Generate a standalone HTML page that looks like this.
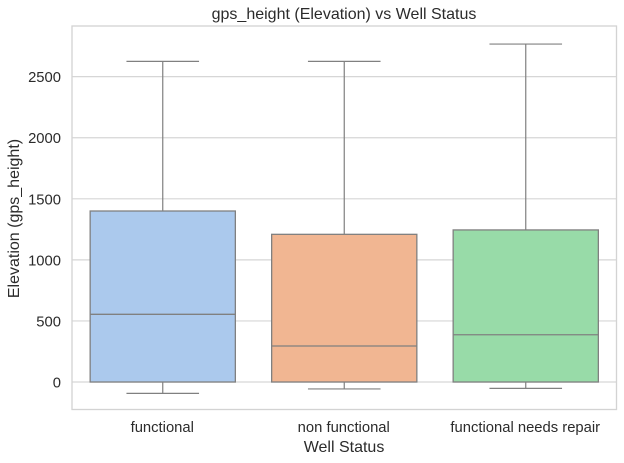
<!DOCTYPE html>
<html>
<head>
<meta charset="utf-8">
<title>gps_height (Elevation) vs Well Status</title>
<style>
html,body{margin:0;padding:0;background:#fff;}
svg{display:block;font-family:"Liberation Sans",sans-serif;filter:blur(0.3px);}
text{fill:#2b2b2b;}
</style>
</head>
<body>
<svg id="chart" xmlns="http://www.w3.org/2000/svg" width="624" height="463" viewBox="0 0 624 463">
<text x="344" y="19" font-size="16" text-anchor="middle">gps_height (Elevation) vs Well Status</text>
<text x="344" y="452" font-size="16" text-anchor="middle">Well Status</text>
<text x="0" y="0" font-size="16" text-anchor="middle" transform="translate(19 218.5) rotate(-90)">Elevation (gps_height)</text>
</svg>
<script>
const categories = ['functional', 'non functional', 'functional needs repair'];
const whiskerLow = [-93, -57, -52];
const q1 = [0, 0, 0];
const median = [554, 295, 387];
const q3 = [1400, 1209, 1245];
const whiskerHigh = [2625, 2625, 2767];
const fills = ['#abc9ed', '#f1b692', '#98dba8'];
const yTicks = [0, 500, 1000, 1500, 2000, 2500];

const svg = document.getElementById('chart');
const NS = 'http://www.w3.org/2000/svg';
const plot = {left: 72, right: 616.5, top: 26, bottom: 409.5};
const xScale = function (i) {
  return plot.left + (i + 0.5) * (plot.right - plot.left) / categories.length;
};
const yScale = function (v) {
  return 382 - v * 0.12214;
};
const step = (plot.right - plot.left) / categories.length;

function make(tag, attrs) {
  const el = document.createElementNS(NS, tag);
  Object.keys(attrs).forEach(function (k) { el.setAttribute(k, attrs[k]); });
  svg.appendChild(el);
  return el;
}

yTicks.forEach(function (t) {
  const y = yScale(t);
  const grid = make('line', {x1: plot.left, x2: plot.right, y1: y, y2: y, stroke: '#d6d6d6', 'stroke-width': 1.2});
  
  
  const label = make('text', {x: 61, y: y + 5.5, 'font-size': 14.8, 'text-anchor': 'end'});
  label.textContent = t;
  
  
});

const frame = make('rect', {x: plot.left, y: plot.top, width: plot.right - plot.left, height: plot.bottom - plot.top, fill: 'none', stroke: '#d3d3d3', 'stroke-width': 1.3});



categories.forEach(function (c, i) {
  const cx = xScale(i);
  const bw = step * 0.8;
  const cw = step * 0.4;
  const stroke = '#808080';
  const upper = make('line', {x1: cx, x2: cx, y1: yScale(q3[i]), y2: yScale(whiskerHigh[i]), stroke: stroke, 'stroke-width': 1.2});
  
  
  const lower = make('line', {x1: cx, x2: cx, y1: yScale(q1[i]), y2: yScale(whiskerLow[i]), stroke: stroke, 'stroke-width': 1.2});
  
  
  const capHigh = make('line', {x1: cx - cw / 2, x2: cx + cw / 2, y1: yScale(whiskerHigh[i]), y2: yScale(whiskerHigh[i]), stroke: stroke, 'stroke-width': 1.2});
  
  
  const capLow = make('line', {x1: cx - cw / 2, x2: cx + cw / 2, y1: yScale(whiskerLow[i]), y2: yScale(whiskerLow[i]), stroke: stroke, 'stroke-width': 1.2});
  
  
  const box = make('rect', {x: cx - bw / 2, y: yScale(q3[i]), width: bw, height: yScale(q1[i]) - yScale(q3[i]), fill: fills[i], stroke: stroke, 'stroke-width': 1.3});
  
  
  const med = make('line', {x1: cx - bw / 2, x2: cx + bw / 2, y1: yScale(median[i]), y2: yScale(median[i]), stroke: stroke, 'stroke-width': 1.3});
  
  
  const label = make('text', {x: cx - 0.5, y: 432, 'font-size': 14.8, 'text-anchor': 'middle'});
  label.textContent = c;
  
  
});
</script>
</body>
</html>
